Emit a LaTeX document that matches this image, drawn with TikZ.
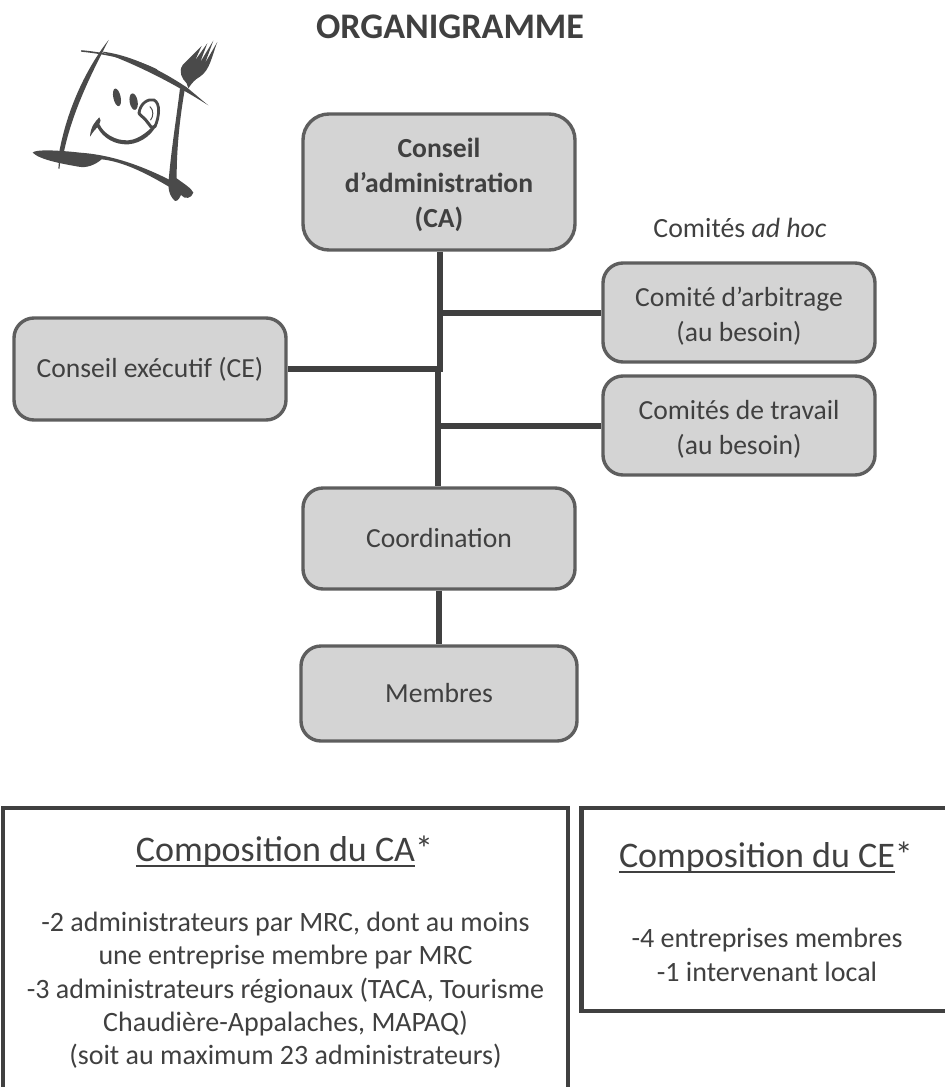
\documentclass[tikz,border=0pt]{standalone}
\usepackage{fontspec}
\setmainfont{Carlito}
\definecolor{ink}{HTML}{404040}
\definecolor{edge}{HTML}{5E5E5E}
\definecolor{boxfill}{HTML}{D4D4D4}
\definecolor{logo}{HTML}{4A4A4A}
\newcommand{\thickul}[1]{\setbox0\hbox{#1}\rlap{\rule[-6.2pt]{\wd0}{2.6pt}}\box0}
\tikzset{
  orgbox/.style={draw=edge,fill=boxfill,line width=3.4pt,rounded corners=#1,text=ink,align=center,
    font=\fontsize{27.6}{35}\selectfont,inner sep=0pt},
  orgbox/.default=20pt,
  link/.style={draw=ink,line width=6pt},
  infobox/.style={draw=ink,line width=4.5pt,fill=white,outer sep=0pt,inner sep=0pt},
  heading/.style={text=ink,font=\fontsize{36}{40}\selectfont,inner sep=0pt,anchor=base},
  bodytext/.style={text=ink,align=center,font=\fontsize{28}{33.3}\selectfont,inner sep=0pt},
  logofill/.style={fill=logo,draw=none},
  logoline/.style={draw=logo,line cap=round,fill=none}
}
\begin{document}
\begin{tikzpicture}[x=1pt,y=-1pt]
\useasboundingbox (0,0) rectangle (945,1087);
\node[orgbox=26pt,minimum width=272pt,minimum height=136pt] (ca) at (439,182) {\rule{0pt}{26pt}\textbf{Conseil}\\\textbf{d’administration}\\\textbf{(CA)}};
\node[orgbox,minimum width=272pt,minimum height=99pt] (arb) at (739,312.5) {\rule{0pt}{26pt}Comité d’arbitrage\\(au besoin)};
\node[orgbox,minimum width=272pt,minimum height=99pt] (trav) at (739,425.5) {\rule{0pt}{26pt}Comités de travail\\(au besoin)};
\node[orgbox,minimum width=272pt,minimum height=102pt] (ce) at (150,369) {Conseil exécutif (CE)};
\node[orgbox,minimum width=272pt,minimum height=101pt] (coord) at (439,538.5) {Coordination};
\node[orgbox,minimum width=276pt,minimum height=95pt] (memb) at (439,693.5) {Membres};
\coordinate (jarb) at (440,312.5);
\coordinate (jce) at (440,372);
\coordinate (jcem) at (440,369);
\coordinate (jce2) at (438,369);
\coordinate (jtrav) at (438,426);
\draw[link] (ca.south -| jarb) -- (jce);
\draw[link] (jce2) -- (coord.north -| jce2);
\draw[link] (jarb) -- (arb.west);
\draw[link] (jcem) -- (ce.east |- jcem);
\draw[link] (jtrav) -- (trav.west |- jtrav);
\draw[link] (coord.south) -- (memb.north);
\node[text=ink,font=\fontsize{36}{40}\selectfont\bfseries,inner sep=0pt] (title) at (450,27) {ORGANIGRAMME};
\node[text=ink,font=\fontsize{27.8}{30}\selectfont,inner sep=0pt] (adhoc) at (740,228) {Comités \textit{ad hoc}};
\node[infobox,minimum width=565pt,minimum height=300pt,anchor=north west] (bca) at (3,808) {};
\node[infobox,minimum width=380pt,minimum height=203pt,anchor=north west] (bce) at (581.5,808) {};
\node[heading] (hca) at (284.5,861) {\thickul{Composition du CA}*};
\node[heading] (hce) at (766,867) {\thickul{Composition du CE}*};
\node[bodytext] (tca) at (285.5,990.5) {-2 administrateurs par MRC, dont au moins\\une entreprise membre par MRC\\-3 administrateurs régionaux (TACA, Tourisme\\Chaudière-Appalaches, MAPAQ)\\(soit au maximum 23 administrateurs)};
\node[bodytext] (tce) at (767,955) {-4 entreprises membres\\-1 intervenant local};
\begin{scope}[x=0.3333pt,y=-0.3333pt,yshift=-20pt]
\draw[logoline,line width=1.6pt] (245,93) .. controls (300,98) and (400,115) .. (470,150);
\fill[logofill] (300,94) .. controls (380,102) and (470,142) .. (560,202) .. controls (580,218) and (605,240) .. (625,256) .. controls (600,240) and (570,222) .. (545,208) .. controls (470,165) and (380,122) .. (300,94) -- cycle;
\fill[logofill] (326,60) .. controls (270,130) and (205,250) .. (178,395) -- (192,395) .. controls (218,270) and (280,150) .. (326,60) -- cycle;
\draw[logoline,line width=1.2pt] (181,395) -- (177,445);
\fill[logofill] (98,398) .. controls (105,388) and (170,390) .. (240,398) .. controls (340,405) and (430,440) .. (510,480) -- (515,505) .. controls (440,460) and (370,425) .. (305,418) .. controls (285,435) and (260,445) .. (235,440) .. controls (190,432) and (120,420) .. (98,398) -- cycle;
\fill[logofill] (540,205) .. controls (530,290) and (515,380) .. (507,470) .. controls (503,500) and (505,525) .. (525,543) .. controls (535,545) and (540,530) .. (543,525) .. controls (555,540) and (575,535) .. (580,518) .. controls (575,505) and (550,490) .. (530,475) .. controls (530,380) and (540,290) .. (555,205) -- cycle;
\fill[logofill] (560,190) .. controls (545,175) and (535,155) .. (548,135) -- (605,78) -- (585,122) -- (622,70) -- (600,128) -- (640,62) -- (615,130) -- (652,66) .. controls (635,110) and (630,150) .. (600,170) .. controls (585,178) and (575,190) .. (565,205) -- cycle;
\fill[logofill,rotate around={12:(351,232)}] (351,232) ellipse [x radius=11,y radius=27];
\fill[logofill,rotate around={10:(401,245)}] (401,245) ellipse [x radius=12,y radius=25];
\fill[logofill] (298,292) .. controls (285,305) and (272,320) .. (270,350) .. controls (280,335) and (285,328) .. (292,322) .. controls (310,355) and (345,375) .. (385,373) .. controls (425,370) and (465,340) .. (475,300) .. controls (450,330) and (420,358) .. (385,361) .. controls (345,363) and (310,340) .. (298,312) .. controls (302,305) and (304,298) .. (298,292) -- cycle;
\draw[logoline,line width=2.8pt] (417,280) .. controls (420,250) and (445,235) .. (462,240) .. controls (482,250) and (478,290) .. (465,320);
\draw[logoline,line width=3pt] (417,280) .. controls (425,290) and (435,295) .. (445,310) .. controls (448,318) and (455,325) .. (465,320);
\draw[logoline,line width=1pt] (450,260) .. controls (462,270) and (460,290) .. (452,300);
\end{scope}
\end{tikzpicture}
\end{document}
